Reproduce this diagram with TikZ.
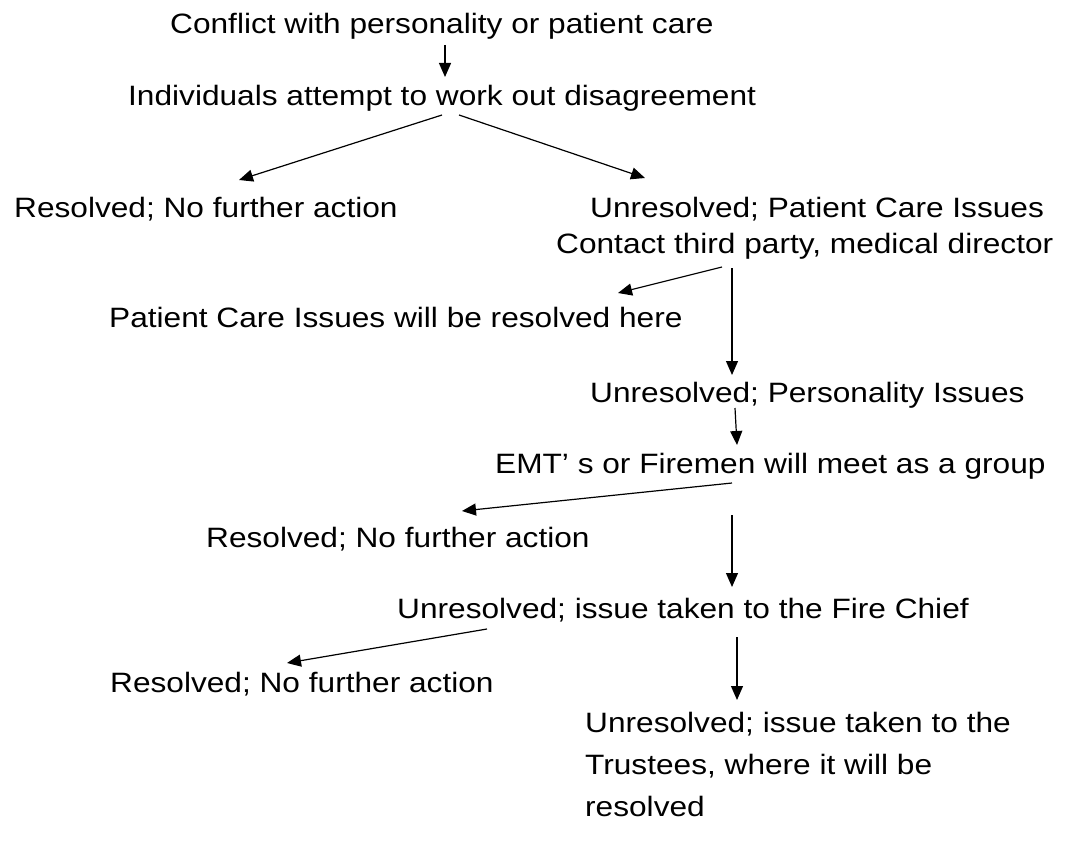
\documentclass[tikz,border=0pt]{standalone}
\usepackage{fontspec}
\setmainfont{Liberation Sans}[FakeStretch=1.13]
\usepackage{tikz}
\usetikzlibrary{arrows.meta,calc}

\begin{document}
\begin{tikzpicture}[x=1pt,y=-1pt,
  txt/.style={inner sep=0pt,anchor=base west,font=\fontsize{28}{42}\selectfont},
  arr/.style={line width=1.2pt,-{Triangle[length=14pt,width=12pt]}}]
\useasboundingbox (0,0) rectangle (1070,845);

\node[txt] (conflict) at (170,34) {Conflict with personality or patient care};
\node[txt] (indiv) at (128,106) {Individuals attempt to work out disagreement};
\node[txt] (resA) at (14,218) {Resolved; No further action};
\node[txt] (unresPC) at (590,218) {Unresolved; Patient Care Issues};
\node[txt] (contact) at (556,253) {Contact third party, medical director};
\node[txt] (pcres) at (109,327) {Patient Care Issues will be resolved here};
\node[txt] (unresPers) at (590,402) {Unresolved; Personality Issues};
\node[txt] (emt) at (495,473) {EMT' s or Firemen will meet as a group};
\node[txt] (resB) at (206,547) {Resolved; No further action};
\node[txt] (chief) at (397,618) {Unresolved; issue taken to the Fire Chief};
\node[txt] (resC) at (110,692) {Resolved; No further action};
\node[txt,anchor=north west,align=left] (trustees) at (585,712.5)
  {Unresolved; issue taken to the\\Trustees, where it will be\\resolved};

\draw[arr] ($(conflict.base west)+(275,11)$) -- ($(indiv.base west)+(317,-29)$);
\draw[arr] ($(indiv.base west)+(314,9)$) -- ($(resA.base west)+(225,-38)$);
\draw[arr] ($(indiv.base west)+(331,9)$) -- ($(unresPC.base west)+(55,-40)$);
\draw[arr] ($(contact.base west)+(166,14)$) -- ($(pcres.base west)+(509,-34)$);
\draw[arr] ($(contact.base west)+(176,15)$) -- ($(unresPers.base west)+(142,-27)$);
\draw[arr] ($(unresPers.base west)+(145,6)$) -- ($(emt.base west)+(242,-28)$);
\draw[arr] ($(emt.base west)+(237,10)$) -- ($(resB.base west)+(256,-36)$);
\draw[arr] ($(emt.base west)+(237,42)$) -- ($(chief.base west)+(335,-31)$);
\draw[arr] ($(chief.base west)+(90,11)$) -- ($(resC.base west)+(177,-29)$);
\draw[arr] ($(chief.base west)+(340,19)$) -- ($(trustees.north west)+(152,-12.5)$);

\end{tikzpicture}
\end{document}
